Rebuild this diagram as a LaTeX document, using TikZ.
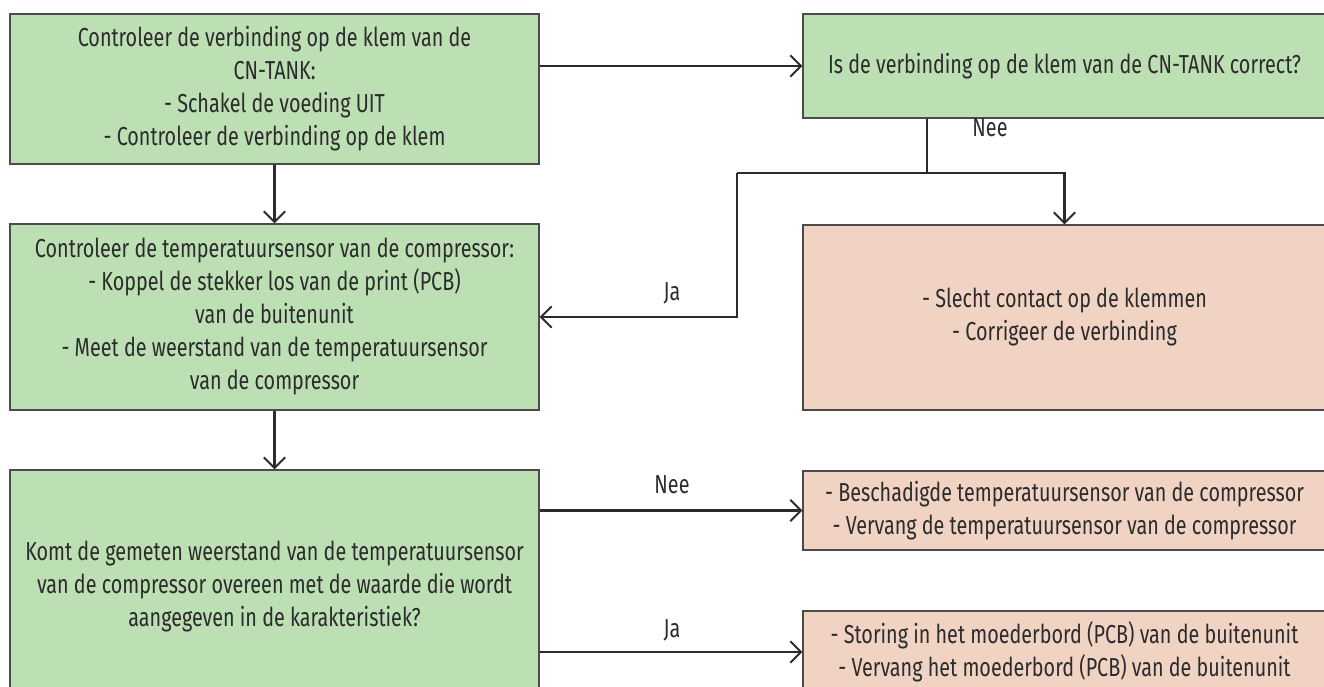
\documentclass[tikz,border=0pt]{standalone}
\usepackage{fontspec}
\setmainfont{Fira Sans}[FakeStretch=0.76]
\usetikzlibrary{arrows.meta,positioning}
\definecolor{stepgreen}{HTML}{BDDFB4}
\definecolor{steppink}{HTML}{F1D3C4}
\definecolor{inkgray}{HTML}{2B2B2B}
\begin{document}
\begin{tikzpicture}[x=0.75pt,y=-0.75pt]
\tikzstyle{box}=[rectangle,draw=inkgray!85,line width=0.9pt,align=center,text=inkgray,
  font=\fontsize{19.5}{24.75}\selectfont,inner sep=0pt]
\tikzstyle{greenbox}=[box,fill=stepgreen]
\tikzstyle{pinkbox}=[box,fill=steppink]
\tikzstyle{flow}=[draw=inkgray,line width=1.7pt,-{Straight Barb[length=8pt,width=16pt,line width=1.5pt]}]
\tikzstyle{line}=[draw=inkgray,line width=1.7pt]
\tikzstyle{lbl}=[text=inkgray,font=\fontsize{19.5}{24.75}\selectfont]
\useasboundingbox (0,0) rectangle (1324,686);
\node[greenbox,minimum width=529*0.75pt,minimum height=150*0.75pt] (check) at (274.5,89)
  {Controleer de verbinding op de klem van de\\CN-TANK:\\- Schakel de voeding UIT\\- Controleer de verbinding op de klem};
\node[greenbox,minimum width=523*0.75pt,minimum height=104*0.75pt] (iscorrect) at (1064.5,66)
  {Is de verbinding op de klem van de CN-TANK correct?};
\node[pinkbox,minimum width=523*0.75pt,minimum height=185*0.75pt] (badcontact) at (1064.5,317.5)
  {- Slecht contact op de klemmen\\- Corrigeer de verbinding};
\node[greenbox,minimum width=529*0.75pt,minimum height=186*0.75pt] (sensor) at (274.5,317)
  {Controleer de temperatuursensor van de compressor:\\- Koppel de stekker los van de print (PCB)\\van de buitenunit\\- Meet de weerstand van de temperatuursensor\\van de compressor};
\node[greenbox,minimum width=529*0.75pt,minimum height=234*0.75pt] (matches) at (274.5,587)
  {Komt de gemeten weerstand van de temperatuursensor\\van de compressor overeen met de waarde die wordt\\aangegeven in de karakteristiek?};
\node[pinkbox,minimum width=523*0.75pt,minimum height=79*0.75pt] (badsensor) at (1064.5,510.5)
  {- Beschadigde temperatuursensor van de compressor\\- Vervang de temperatuursensor van de compressor};
\node[pinkbox,minimum width=523*0.75pt,minimum height=82*0.75pt] (badpcb) at (1064.5,652)
  {- Storing in het moederbord (PCB) van de buitenunit\\- Vervang het moederbord (PCB) van de buitenunit};
\coordinate (split) at (927,173);
\coordinate (jabend) at (737,173);
\draw[flow] (check.east |- iscorrect.west) -- (iscorrect.west);
\draw[flow] (check) -- (sensor);
\draw[line] (iscorrect.south -| split) -- (split);
\draw[flow] (jabend) -| (badcontact);
\draw[flow] (jabend) |- (sensor.east);
\node[lbl] (neetop) at (990,128) {Nee};
\node[lbl] (jatop) at (672,293) {Ja};
\draw[flow] (sensor) -- (matches);
\draw[flow] (matches.east |- badsensor.west) -- (badsensor.west);
\draw[flow] (matches.east |- badpcb.west) -- (badpcb.west);
\node[lbl] (neelow) at (672,485) {Nee};
\node[lbl] (jalow) at (672,630) {Ja};
\end{tikzpicture}
\end{document}
